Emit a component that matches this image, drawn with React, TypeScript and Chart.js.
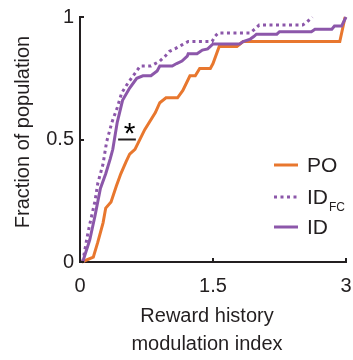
import React, { useEffect, useRef } from "react";
import { Chart, registerables } from "chart.js";

Chart.register(...registerables);

// ---- data ----
const poX = [0.02, 0.15, 0.2, 0.26, 0.29, 0.35, 0.41, 0.46, 0.52, 0.56, 0.62, 0.73, 0.85, 0.9, 0.97, 1.1, 1.16, 1.24, 1.3, 1.35, 1.47, 1.5, 1.57, 1.77, 1.84, 2.93, 2.99];
const poY = [0, 0.02, 0.08, 0.16, 0.22, 0.245, 0.31, 0.36, 0.41, 0.44, 0.46, 0.54, 0.61, 0.65, 0.67, 0.67, 0.7, 0.76, 0.76, 0.79, 0.79, 0.81, 0.88, 0.88, 0.9, 0.9, 1.0];

const idX = [0.03, 0.11, 0.17, 0.23, 0.29, 0.34, 0.37, 0.42, 0.48, 0.56, 0.64, 0.71, 0.8, 0.87, 0.9, 1.04, 1.09, 1.15, 1.21, 1.22, 1.32, 1.38, 1.44, 1.5, 1.8, 1.84, 1.92, 1.96, 1.99, 2.22, 2.25, 2.61, 2.65, 2.84, 2.87, 2.95, 3.0];
const idY = [0, 0.09, 0.19, 0.3, 0.36, 0.42, 0.46, 0.57, 0.66, 0.71, 0.75, 0.76, 0.76, 0.78, 0.8, 0.8, 0.81, 0.82, 0.84, 0.85, 0.85, 0.865, 0.87, 0.89, 0.89, 0.9, 0.91, 0.92, 0.93, 0.93, 0.94, 0.94, 0.95, 0.95, 0.963, 0.963, 1.0];

const idFcX = [0.03, 0.09, 0.12, 0.17, 0.2, 0.26, 0.3, 0.36, 0.42, 0.47, 0.54, 0.62, 0.68, 0.8, 0.9, 0.96, 1.01, 1.07, 1.15, 1.22, 1.49, 1.52, 1.56, 1.92, 1.97, 2.02, 2.51, 2.56, 2.62];
const idFcY = [0, 0.12, 0.17, 0.25, 0.32, 0.4, 0.49, 0.57, 0.63, 0.69, 0.73, 0.77, 0.8, 0.8, 0.82, 0.84, 0.86, 0.87, 0.886, 0.9, 0.9, 0.92, 0.935, 0.935, 0.95, 0.967, 0.967, 0.98, 1.0];

const xTicks = [0, 1.5, 3];
const yTicks = [0, 0.5, 1];
const xTitleLines = ["Reward history", "modulation index"];
const yTitle = "Fraction of population";
const legendNames = ["PO", "ID", "ID"];
const legendSubs = ["", "FC", ""];
const sigLineX = [0.43, 0.63];
const sigLineY = 0.5;
const sigStar = { x: 0.56, y: 0.543, text: "*" };

// ---- styles ----
const ORANGE = "#E8772E";
const PURPLE = "#8C57AA";
const INK = "#231F20";
const FONT = "'Liberation Sans', Arial, sans-serif";

const toPts = (xs: number[], ys: number[]) => xs.map((x, i) => ({ x, y: ys[i] }));

const decorPlugin = {
  id: "decor",
  afterDraw(chart: any) {
    const { ctx, chartArea, scales } = chart;
    const xs = scales.x;
    const ys = scales.y;
    ctx.save();
    // inward ticks
    ctx.strokeStyle = INK;
    ctx.lineWidth = 2;
    ctx.beginPath();
    yTicks.forEach((v) => {
      const py = Math.round(ys.getPixelForValue(v));
      ctx.moveTo(chartArea.left, py);
      ctx.lineTo(chartArea.left + 4, py);
    });
    xTicks.forEach((v) => {
      const px = Math.round(xs.getPixelForValue(v));
      ctx.moveTo(px, chartArea.bottom);
      ctx.lineTo(px, chartArea.bottom - 4);
    });
    ctx.stroke();

    // significance line + star
    ctx.beginPath();
    ctx.lineWidth = 2;
    ctx.moveTo(xs.getPixelForValue(sigLineX[0]), ys.getPixelForValue(sigLineY));
    ctx.lineTo(xs.getPixelForValue(sigLineX[1]), ys.getPixelForValue(sigLineY));
    ctx.stroke();
    ctx.fillStyle = "#000";
    ctx.font = `30px ${FONT}`;
    ctx.textBaseline = "alphabetic";
    ctx.textAlign = "left";
    const m = ctx.measureText(sigStar.text);
    const cx = xs.getPixelForValue(sigStar.x);
    const cy = ys.getPixelForValue(sigStar.y);
    const bx = cx - (m.actualBoundingBoxRight - m.actualBoundingBoxLeft) / 2;
    const by = cy + (m.actualBoundingBoxAscent - m.actualBoundingBoxDescent) / 2;
    ctx.fillText(sigStar.text, bx, by);

    // axis titles
    ctx.fillStyle = INK;
    ctx.font = `20px ${FONT}`;
    ctx.textAlign = "center";
    ctx.textBaseline = "alphabetic";
    xTitleLines.forEach((t, i) => {
      ctx.fillText(t, 207, 322 + i * 28);
    });
    ctx.save();
    ctx.translate(29, 132);
    ctx.rotate(-Math.PI / 2);
    ctx.fillText(yTitle, 0, 0);
    ctx.restore();

    // legend
    const colors = [ORANGE, PURPLE, PURPLE];
    const dashes = [[], [3, 3.5], []];
    const rowY = [165, 197, 227];
    legendNames.forEach((name, i) => {
      ctx.beginPath();
      ctx.strokeStyle = colors[i];
      ctx.lineWidth = 3;
      ctx.setLineDash(dashes[i]);
      ctx.moveTo(274, rowY[i]);
      ctx.lineTo(298, rowY[i]);
      ctx.stroke();
      ctx.setLineDash([]);
      ctx.fillStyle = INK;
      ctx.font = `21px ${FONT}`;
      ctx.textAlign = "left";
      ctx.textBaseline = "middle";
      ctx.fillText(name, 307, rowY[i] + 1);
      if (legendSubs[i]) {
        const w = ctx.measureText(name).width;
        ctx.font = `12px ${FONT}`;
        ctx.fillText(legendSubs[i], 307 + w + 1, rowY[i] + 11);
      }
    });
    ctx.restore();
  },
};

export default function App() {
  const ref = useRef<HTMLCanvasElement | null>(null);
  useEffect(() => {
    document.body.style.margin = "0";
    const canvas = ref.current;
    if (!canvas) return;
    const chart = new Chart(canvas, {
      type: "line",
      data: {
        datasets: [
          {
            label: "ID",
            data: toPts(idX, idY),
            borderColor: PURPLE,
            borderWidth: 3,
            pointRadius: 0,
            tension: 0,
            clip: 4,
          },
          {
            label: "ID_FC",
            data: toPts(idFcX, idFcY),
            borderColor: PURPLE,
            borderWidth: 3,
            borderDash: [3, 3.5],
            borderCapStyle: "butt",
            pointRadius: 0,
            tension: 0,
            clip: 4,
          },
          {
            label: "PO",
            data: toPts(poX, poY),
            borderColor: ORANGE,
            borderWidth: 3,
            pointRadius: 0,
            tension: 0,
            clip: 4,
          },
        ],
      },
      options: {
        animation: false,
        responsive: false,
        devicePixelRatio: 1,
        layout: { padding: { top: 17, right: 7, left: 0, bottom: 0 } },
        plugins: { legend: { display: false }, tooltip: { enabled: false } },
        scales: {
          x: {
            type: "linear",
            min: 0,
            max: 3,
            grid: { display: false, drawTicks: false },
            border: { display: true, color: INK, width: 2 },
            afterBuildTicks: (s: any) => {
              s.ticks = xTicks.map((v) => ({ value: v }));
            },
            afterFit: (s: any) => {
              s.height = 98;
              s.paddingLeft = 0;
              s.paddingRight = 0;
            },
            ticks: {
              font: { size: 20, family: FONT },
              color: INK,
              padding: 12,
              maxRotation: 0,
              callback: (v: any) => String(v),
            },
          },
          y: {
            type: "linear",
            min: 0,
            max: 1,
            grid: { display: false, drawTicks: false },
            border: { display: true, color: INK, width: 2 },
            afterBuildTicks: (s: any) => {
              s.ticks = yTicks.map((v) => ({ value: v }));
            },
            afterFit: (s: any) => {
              s.width = 80;
              s.paddingTop = 0;
              s.paddingBottom = 0;
            },
            ticks: {
              font: { size: 20, family: FONT },
              color: INK,
              padding: 6,
              callback: (v: any) => String(v),
            },
          },
        },
      },
      plugins: [decorPlugin],
    });
    return () => chart.destroy();
  }, []);
  return (
    <div style={{ width: 353, height: 360 }}>
      <canvas ref={ref} width={353} height={360} />
    </div>
  );
}
